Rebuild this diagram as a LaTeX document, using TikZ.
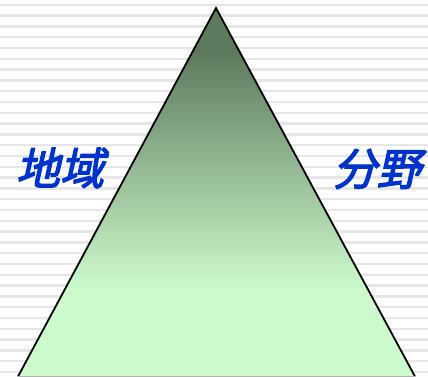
\documentclass[tikz,border=0pt]{standalone}
\usepackage{fontspec}
\newfontfamily\cjk[FakeSlant=0.22,FakeBold=3]{Noto Sans CJK SC}
\definecolor{topgreen}{HTML}{5E7A5E}
\definecolor{botgreen}{HTML}{CCFACC}
\definecolor{stripe}{HTML}{E6E6E6}
\definecolor{labelblue}{HTML}{0033CC}
\pgfdeclareverticalshading{triangleshade}{100bp}{
  color(0bp)=(botgreen); color(37bp)=(botgreen); color(53bp)=(botgreen!50!topgreen); color(69bp)=(topgreen); color(100bp)=(topgreen)}
\tikzset{
  stripeline/.style={stripe, line width=2.4pt},
  label/.style={font=\cjk\fontsize{44}{44}\selectfont, text=labelblue, inner sep=0pt},
}
\begin{document}
\begin{tikzpicture}[x=1pt,y=-1pt]
\useasboundingbox (0,0) rectangle (428,376);
\fill[white] (0,0) rectangle (428,376);
\foreach \k in {0,...,34} {
  \draw[stripeline] (0,{4.7+10.8*\k}) -- (428,{4.7+10.8*\k});
}
\coordinate (apex) at (216,8);
\coordinate (bl) at (18,376.5);
\coordinate (br) at (415,376.5);
\shade[shading=triangleshade] (apex) -- (br) -- (bl) -- cycle;
\draw[line width=1.8pt, line join=miter] (bl) -- (apex) -- (br);
\draw[gray!60, line width=1pt] (bl) -- (br);
\node[label] (chiiki) at (60,168) {地域};
\node[label] (bunya) at (377,169) {分野};
\end{tikzpicture}
\end{document}
